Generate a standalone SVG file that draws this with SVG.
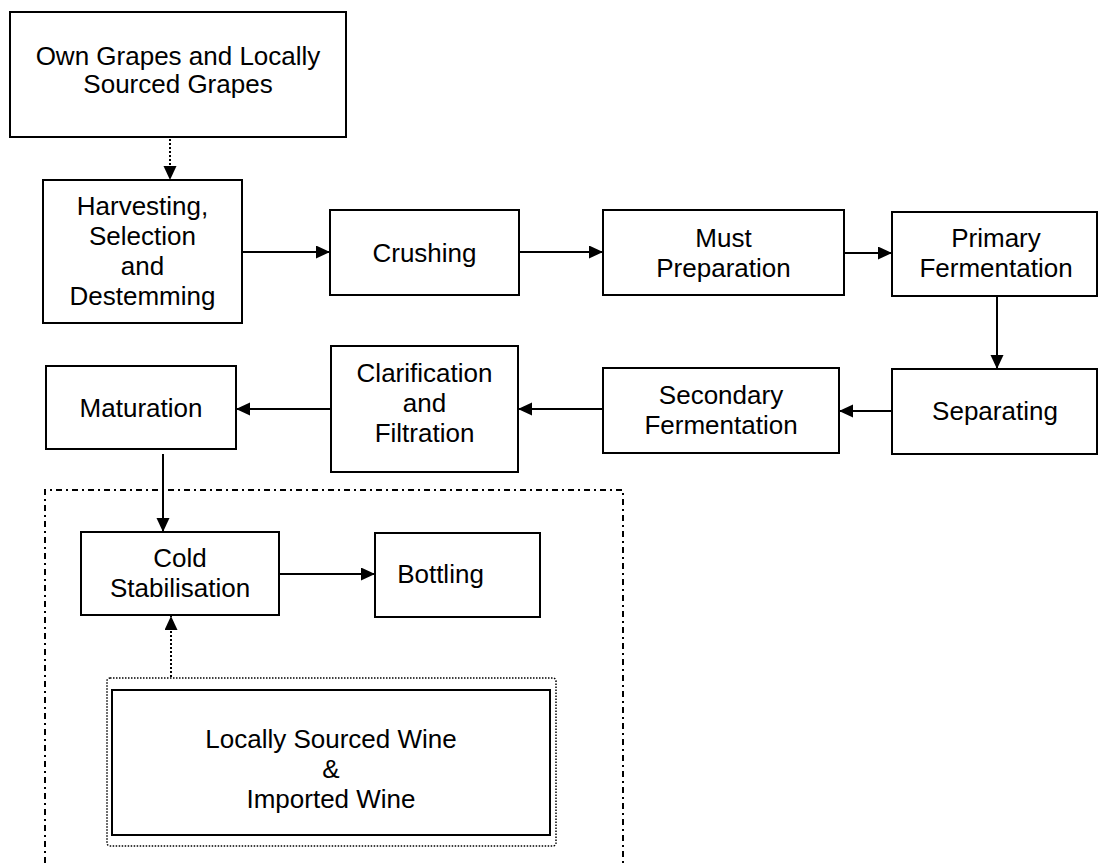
<svg xmlns="http://www.w3.org/2000/svg" width="1100" height="863" viewBox="0 0 1100 863">
  <style>
    .box { fill: #fff; stroke: #000; stroke-width: 2; }
    .lbl { font-family: "Liberation Sans", Arial, sans-serif; font-size: 26px; fill: #000; text-anchor: middle; }
    .flow { stroke: #000; stroke-width: 2; fill: none; }
    .dot { stroke: #000; stroke-width: 2; stroke-dasharray: 2 2; fill: none; }
  </style>
  <defs>
    <marker id="head" markerUnits="userSpaceOnUse" markerWidth="15" markerHeight="14" refX="14" refY="6.5" orient="auto">
      <path d="M0,0 L14,6.5 L0,13 Z" fill="#000"/>
    </marker>
  </defs>
  <rect width="1100" height="863" fill="#fff"/>

  <!-- bottling section boundary -->
  <path d="M45,863 V490 H623 V863" fill="none" stroke="#000" stroke-width="2" stroke-dasharray="6 4 2 4"/>

  <g id="own-grapes">
    <rect class="box" x="10" y="12" width="336" height="125"/>
    <text class="lbl" x="178" y="65">Own Grapes and Locally</text>
    <text class="lbl" x="178" y="93">Sourced Grapes</text>
  </g>
  <g id="harvesting">
    <rect class="box" x="43" y="180" width="199" height="143"/>
    <text class="lbl" x="142.5" y="215">Harvesting,</text>
    <text class="lbl" x="142.5" y="245">Selection</text>
    <text class="lbl" x="142.5" y="275">and</text>
    <text class="lbl" x="142.5" y="305">Destemming</text>
  </g>
  <g id="crushing">
    <rect class="box" x="330" y="210" width="189" height="85"/>
    <text class="lbl" x="424.5" y="262">Crushing</text>
  </g>
  <g id="must-preparation">
    <rect class="box" x="603" y="210" width="241" height="85"/>
    <text class="lbl" x="723.5" y="247">Must</text>
    <text class="lbl" x="723.5" y="277">Preparation</text>
  </g>
  <g id="primary-fermentation">
    <rect class="box" x="892" y="212" width="205" height="84"/>
    <text class="lbl" x="996" y="247">Primary</text>
    <text class="lbl" x="996" y="277">Fermentation</text>
  </g>
  <g id="separating">
    <rect class="box" x="892" y="369" width="205" height="85"/>
    <text class="lbl" x="995" y="420">Separating</text>
  </g>
  <g id="secondary-fermentation">
    <rect class="box" x="603" y="368" width="236" height="85"/>
    <text class="lbl" x="721" y="404">Secondary</text>
    <text class="lbl" x="721" y="434">Fermentation</text>
  </g>
  <g id="clarification">
    <rect class="box" x="331" y="346" width="187" height="126"/>
    <text class="lbl" x="424.5" y="382">Clarification</text>
    <text class="lbl" x="424.5" y="412">and</text>
    <text class="lbl" x="424.5" y="442">Filtration</text>
  </g>
  <g id="maturation">
    <rect class="box" x="46" y="366" width="190" height="83"/>
    <text class="lbl" x="141" y="417">Maturation</text>
  </g>
  <g id="cold-stabilisation">
    <rect class="box" x="81" y="532" width="198" height="83"/>
    <text class="lbl" x="180" y="567">Cold</text>
    <text class="lbl" x="180" y="597">Stabilisation</text>
  </g>
  <g id="bottling">
    <rect class="box" x="375" y="533" width="165" height="84"/>
    <text class="lbl" x="440.5" y="583">Bottling</text>
  </g>
  <g id="sourced-wine">
    <rect x="107" y="678" width="449" height="168" rx="3" fill="none" stroke="#000" stroke-width="1.5" stroke-dasharray="1.5 1.5"/>
    <rect class="box" x="112" y="690" width="438" height="145"/>
    <text class="lbl" x="331" y="748">Locally Sourced Wine</text>
    <text class="lbl" x="331" y="778">&amp;</text>
    <text class="lbl" x="331" y="808">Imported Wine</text>
  </g>

  <g id="connectors">
    <line class="dot" x1="170" y1="139" x2="170" y2="180" marker-end="url(#head)"/>
    <line class="flow" x1="242" y1="252" x2="330" y2="252" marker-end="url(#head)"/>
    <line class="flow" x1="519" y1="252" x2="603" y2="252" marker-end="url(#head)"/>
    <line class="flow" x1="844" y1="253" x2="892" y2="253" marker-end="url(#head)"/>
    <line class="flow" x1="997" y1="296" x2="997" y2="369" marker-end="url(#head)"/>
    <line class="flow" x1="892" y1="411" x2="839" y2="411" marker-end="url(#head)"/>
    <line class="flow" x1="603" y1="409" x2="518" y2="409" marker-end="url(#head)"/>
    <line class="flow" x1="331" y1="409" x2="236" y2="409" marker-end="url(#head)"/>
    <line class="flow" x1="163" y1="454" x2="163" y2="532" marker-end="url(#head)"/>
    <line class="flow" x1="279" y1="574" x2="375" y2="574" marker-end="url(#head)"/>
    <line class="dot" x1="171" y1="677" x2="171" y2="616" marker-end="url(#head)"/>
  </g>
</svg>
